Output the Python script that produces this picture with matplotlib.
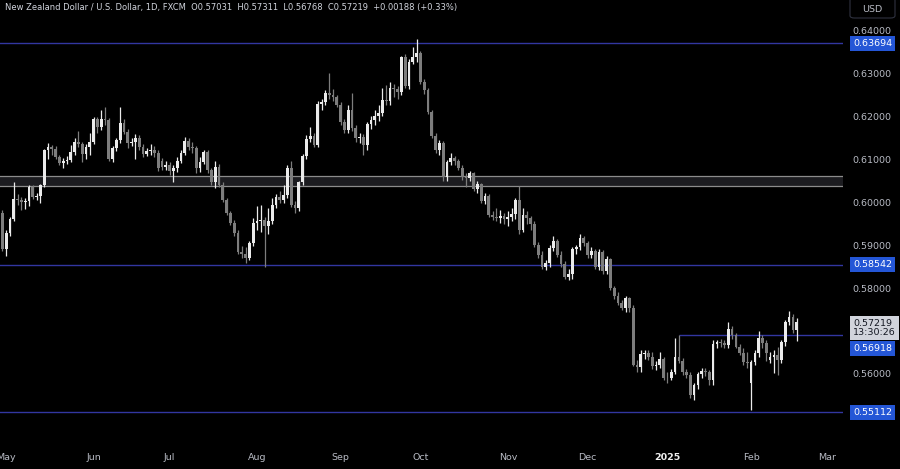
import matplotlib.pyplot as plt
import matplotlib.transforms as mtransforms
from matplotlib.patches import FancyBboxPatch
import numpy as np
import pandas as pd

# daily bars (FXCM has no bar on 25 Dec and 1 Jan)
days = pd.bdate_range('2024-04-30', '2025-02-19')
days = days[~days.isin(pd.to_datetime(['2024-12-25', '2025-01-01']))]

opens = [0.5975,
         # May
         0.5890, 0.5928, 0.5960, 0.6007, 0.6005, 0.6000, 0.6002, 0.6035, 0.6012, 0.6014, 0.6040, 0.6121,
         0.6128, 0.6124, 0.6105, 0.6091, 0.6095, 0.6098, 0.6116, 0.6140, 0.6135, 0.6112, 0.6128,
         # Jun
         0.6140, 0.6193, 0.6174, 0.6193, 0.6190, 0.6100, 0.6126, 0.6144, 0.6184, 0.6163, 0.6137, 0.6140,
         0.6148, 0.6128, 0.6112, 0.6119, 0.6122, 0.6115, 0.6095, 0.6081,
         # Jul
         0.6086, 0.6072, 0.6079, 0.6095, 0.6115, 0.6142, 0.6128, 0.6125, 0.6079, 0.6093, 0.6116, 0.6074,
         0.6047, 0.6081, 0.6040, 0.6005, 0.5974, 0.5951, 0.5928, 0.5884, 0.5880, 0.5870, 0.5905,
         # Aug
         0.5951, 0.5955, 0.5957, 0.5945, 0.5955, 0.5993, 0.6012, 0.6005, 0.6016, 0.6079, 0.5993, 0.5985,
         0.6047, 0.6107, 0.6147, 0.6154, 0.6133, 0.6228, 0.6232, 0.6253, 0.6250, 0.6245,
         # Sep
         0.6226, 0.6186, 0.6167, 0.6215, 0.6172, 0.6149, 0.6151, 0.6133, 0.6181, 0.6190, 0.6200, 0.6207,
         0.6237, 0.6235, 0.6265, 0.6262, 0.6255, 0.6337, 0.6270, 0.6326, 0.6337,
         # Oct
         0.6347, 0.6279, 0.6260, 0.6209, 0.6154, 0.6121, 0.6137, 0.6058, 0.6093, 0.6102, 0.6096, 0.6080,
         0.6058, 0.6055, 0.6067, 0.6030, 0.6042, 0.6002, 0.6014, 0.5970, 0.5965, 0.5963, 0.5968,
         # Nov
         0.5960, 0.5965, 0.5972, 0.6005, 0.5935, 0.5970, 0.5963, 0.5950, 0.5900, 0.5877, 0.5849, 0.5858,
         0.5893, 0.5909, 0.5877, 0.5856, 0.5826, 0.5832, 0.5891, 0.5895, 0.5916,
         # Dec
         0.5905, 0.5877, 0.5885, 0.5849, 0.5884, 0.5840, 0.5867, 0.5800, 0.5781, 0.5765, 0.5753, 0.5777,
         0.5753, 0.5621, 0.5616, 0.5647, 0.5648, 0.5640, 0.5619, 0.5622, 0.5635,
         # Jan
         0.5591, 0.5590, 0.5605, 0.5640, 0.5630, 0.5605, 0.5598, 0.5552, 0.5575, 0.5600, 0.5608, 0.5605,
         0.5586, 0.5670, 0.5674, 0.5672, 0.5668, 0.5705, 0.5690, 0.5663, 0.5649, 0.5628,
         # Feb
         0.5580, 0.5628, 0.5649, 0.5684, 0.5672, 0.5633, 0.5640, 0.5645, 0.5633, 0.5674, 0.5721, 0.5733,
         0.57031]

highs = [0.5982,
         0.5935, 0.5965, 0.6047, 0.6018, 0.6012, 0.6010, 0.6040, 0.6040, 0.6020, 0.6043, 0.6124, 0.6137,
         0.6133, 0.6130, 0.6110, 0.6102, 0.6106, 0.6133, 0.6150, 0.6165, 0.6140, 0.6135, 0.6160,
         0.6198, 0.6197, 0.6214, 0.6222, 0.6195, 0.6130, 0.6150, 0.6221, 0.6192, 0.6170, 0.6150, 0.6158,
         0.6155, 0.6135, 0.6125, 0.6135, 0.6130, 0.6122, 0.6102, 0.6095,
         0.6092, 0.6085, 0.6105, 0.6120, 0.6151, 0.6148, 0.6140, 0.6130, 0.6105, 0.6120, 0.6120, 0.6080,
         0.6095, 0.6088, 0.6046, 0.6010, 0.5980, 0.5958, 0.5935, 0.5898, 0.5895, 0.5910, 0.5962,
         0.5990, 0.5992, 0.5965, 0.5985, 0.6010, 0.6018, 0.6025, 0.6040, 0.6085, 0.6095, 0.6002, 0.6050,
         0.6112, 0.6155, 0.6174, 0.6160, 0.6235, 0.6240, 0.6260, 0.6300, 0.6262, 0.6250,
         0.6232, 0.6192, 0.6225, 0.6253, 0.6180, 0.6160, 0.6158, 0.6185, 0.6200, 0.6215, 0.6225, 0.6265,
         0.6272, 0.6280, 0.6275, 0.6270, 0.6340, 0.6345, 0.6332, 0.6360, 0.6378,
         0.6352, 0.6285, 0.6265, 0.6215, 0.6160, 0.6145, 0.6142, 0.6098, 0.6115, 0.6108, 0.6100, 0.6085,
         0.6068, 0.6072, 0.6070, 0.6048, 0.6045, 0.6020, 0.6018, 0.5980, 0.5985, 0.5982, 0.5975,
         0.5980, 0.5985, 0.6010, 0.6037, 0.5985, 0.5978, 0.5968, 0.5955, 0.5908, 0.5885, 0.5865, 0.5900,
         0.5922, 0.5915, 0.5885, 0.5862, 0.5845, 0.5895, 0.5900, 0.5925, 0.5920,
         0.5910, 0.5895, 0.5890, 0.5890, 0.5888, 0.5875, 0.5870, 0.5805, 0.5790, 0.5772, 0.5782, 0.5780,
         0.5760, 0.5632, 0.5655, 0.5655, 0.5655, 0.5652, 0.5630, 0.5650, 0.5640,
         0.5605, 0.5612, 0.5684, 0.5690, 0.5638, 0.5612, 0.5605, 0.5580, 0.5605, 0.5615, 0.5615, 0.5610,
         0.5680, 0.5680, 0.5682, 0.5680, 0.5721, 0.5712, 0.5695, 0.5670, 0.5660, 0.5650,
         0.5632, 0.5655, 0.5700, 0.5690, 0.5680, 0.5650, 0.5655, 0.5662, 0.5680, 0.5725, 0.5747, 0.5740,
         0.57311]

lows = [0.5885,
        0.5874, 0.5922, 0.5955, 0.5992, 0.5982, 0.5983, 0.5991, 0.6008, 0.6004, 0.5998, 0.6034, 0.6100,
        0.6110, 0.6100, 0.6085, 0.6080, 0.6088, 0.6092, 0.6110, 0.6128, 0.6092, 0.6100, 0.6110,
        0.6135, 0.6160, 0.6168, 0.6180, 0.6095, 0.6094, 0.6118, 0.6138, 0.6158, 0.6125, 0.6130, 0.6100,
        0.6120, 0.6105, 0.6106, 0.6110, 0.6105, 0.6072, 0.6075, 0.6074,
        0.6062, 0.6047, 0.6070, 0.6090, 0.6110, 0.6122, 0.6115, 0.6068, 0.6070, 0.6088, 0.6068, 0.6040,
        0.6033, 0.6035, 0.6000, 0.5970, 0.5946, 0.5922, 0.5880, 0.5870, 0.5858, 0.5865, 0.5898,
        0.5935, 0.5930, 0.5850, 0.5925, 0.5950, 0.5985, 0.5998, 0.5998, 0.6010, 0.5988, 0.5975, 0.5980,
        0.6040, 0.6100, 0.6140, 0.6128, 0.6128, 0.6215, 0.6225, 0.6240, 0.6235, 0.6220,
        0.6180, 0.6160, 0.6160, 0.6165, 0.6140, 0.6138, 0.6109, 0.6120, 0.6170, 0.6180, 0.6188, 0.6200,
        0.6225, 0.6225, 0.6245, 0.6240, 0.6250, 0.6265, 0.6262, 0.6320, 0.6325,
        0.6275, 0.6252, 0.6205, 0.6150, 0.6115, 0.6110, 0.6050, 0.6050, 0.6085, 0.6085, 0.6075, 0.6052,
        0.6035, 0.6050, 0.6025, 0.6022, 0.5998, 0.5995, 0.5965, 0.5958, 0.5955, 0.5952, 0.5950,
        0.5945, 0.5955, 0.5960, 0.5925, 0.5930, 0.5950, 0.5935, 0.5895, 0.5870, 0.5845, 0.5842, 0.5850,
        0.5885, 0.5872, 0.5850, 0.5820, 0.5818, 0.5820, 0.5880, 0.5888, 0.5898,
        0.5870, 0.5870, 0.5845, 0.5842, 0.5832, 0.5832, 0.5795, 0.5775, 0.5760, 0.5748, 0.5745, 0.5745,
        0.5618, 0.5605, 0.5605, 0.5635, 0.5632, 0.5612, 0.5610, 0.5615, 0.5585,
        0.5580, 0.5585, 0.5600, 0.5625, 0.5598, 0.5590, 0.5545, 0.5540, 0.5565, 0.5590, 0.5595, 0.5575,
        0.5575, 0.5660, 0.5662, 0.5660, 0.5660, 0.5682, 0.5660, 0.5645, 0.5622, 0.5615,
        0.5516, 0.5620, 0.5640, 0.5660, 0.5630, 0.5625, 0.5602, 0.5598, 0.5625, 0.5665, 0.5715, 0.5695,
        0.56768]

closes = [0.5890,
          0.5928, 0.5960, 0.6007, 0.6005, 0.6000, 0.6002, 0.6035, 0.6012, 0.6014, 0.6040, 0.6121, 0.6128,
          0.6124, 0.6105, 0.6091, 0.6095, 0.6098, 0.6116, 0.6140, 0.6135, 0.6112, 0.6128, 0.6140,
          0.6193, 0.6174, 0.6193, 0.6190, 0.6100, 0.6126, 0.6144, 0.6184, 0.6163, 0.6137, 0.6140, 0.6148,
          0.6128, 0.6112, 0.6119, 0.6122, 0.6115, 0.6079, 0.6081, 0.6086,
          0.6072, 0.6079, 0.6095, 0.6115, 0.6142, 0.6128, 0.6125, 0.6079, 0.6093, 0.6116, 0.6074, 0.6047,
          0.6081, 0.6040, 0.6005, 0.5974, 0.5951, 0.5928, 0.5884, 0.5880, 0.5870, 0.5905, 0.5951,
          0.5955, 0.5957, 0.5945, 0.5955, 0.5993, 0.6012, 0.6005, 0.6016, 0.6079, 0.5993, 0.5985, 0.6047,
          0.6107, 0.6147, 0.6154, 0.6133, 0.6228, 0.6232, 0.6253, 0.6250, 0.6245, 0.6226,
          0.6186, 0.6167, 0.6215, 0.6172, 0.6149, 0.6151, 0.6133, 0.6181, 0.6190, 0.6200, 0.6207, 0.6237,
          0.6235, 0.6265, 0.6262, 0.6255, 0.6337, 0.6270, 0.6326, 0.6337, 0.6347,
          0.6279, 0.6260, 0.6209, 0.6154, 0.6121, 0.6137, 0.6058, 0.6093, 0.6102, 0.6096, 0.6080, 0.6058,
          0.6055, 0.6067, 0.6030, 0.6042, 0.6002, 0.6014, 0.5970, 0.5965, 0.5963, 0.5968, 0.5960,
          0.5965, 0.5972, 0.6005, 0.5935, 0.5970, 0.5963, 0.5950, 0.5900, 0.5877, 0.5849, 0.5858, 0.5893,
          0.5909, 0.5877, 0.5856, 0.5826, 0.5832, 0.5891, 0.5895, 0.5916, 0.5905,
          0.5877, 0.5885, 0.5849, 0.5884, 0.5840, 0.5867, 0.5800, 0.5781, 0.5765, 0.5753, 0.5777, 0.5753,
          0.5621, 0.5616, 0.5647, 0.5648, 0.5640, 0.5619, 0.5622, 0.5635, 0.5591,
          0.5590, 0.5605, 0.5640, 0.5630, 0.5605, 0.5598, 0.5552, 0.5575, 0.5600, 0.5608, 0.5605, 0.5586,
          0.5670, 0.5674, 0.5672, 0.5668, 0.5705, 0.5690, 0.5663, 0.5649, 0.5628, 0.5625,
          0.5628, 0.5649, 0.5684, 0.5672, 0.5649, 0.5640, 0.5645, 0.5633, 0.5674, 0.5721, 0.5733, 0.5703,
          0.57219]

# drawn levels
levels = [0.63694, 0.58542, 0.56918, 0.55112]
zone = (0.60372, 0.60605)
level_start = {0.56918: '2025-01-07'}
price_ticks = [0.55, 0.56, 0.58, 0.59, 0.60, 0.61, 0.62, 0.63, 0.64]
month_ticks = ['2024-05-01', '2024-06-03', '2024-07-01', '2024-08-01', '2024-09-02', '2024-10-01',
               '2024-11-01', '2024-12-02', '2025-01-02', '2025-02-03', '2025-03-03']
month_labels = ['May', 'Jun', 'Jul', 'Aug', 'Sep', 'Oct', 'Nov', 'Dec', '2025', 'Feb', 'Mar']
title = ('New Zealand Dollar / U.S. Dollar, 1D, FXCM  O0.57031  H0.57311  L0.56768  '
         'C0.57219  +0.00188 (+0.33%)')

assert len(opens) == len(highs) == len(lows) == len(closes) == len(days)

o = np.array(opens)
h = np.array(highs)
l = np.array(lows)
c = np.array(closes)
x = np.arange(len(days))


def bar_pos(d):
    d = pd.Timestamp(d)
    if d <= days[-1]:
        return int(np.searchsorted(days, d))
    return len(days) - 1 + len(pd.bdate_range(days[-1] + pd.Timedelta(days=1), d))


plt.rcParams['font.family'] = ['DejaVu Sans']
small = 6.8

bg = '#000000'
up_col = '#ebebeb'
dn_col = '#7d7d7d'
txt_col = '#b8bbc4'
line_col = '#3236a0'
blue_box = '#2456d6'

fig = plt.figure(figsize=(9, 4.69), dpi=100, facecolor=bg)
ax = fig.add_axes([0, 29 / 469, 843 / 900, 440 / 469], facecolor=bg)

up = c >= o
cols = np.where(up, up_col, dn_col)
ax.vlines(x, l, h, colors=cols, linewidth=0.9, zorder=3)
body = np.maximum(np.abs(c - o), 0.00007)
ax.bar(x, body, bottom=np.minimum(o, c), width=0.7, color=cols, linewidth=0, zorder=4)

# zone
ax.axhspan(zone[0], zone[1], color='#1c1c20', zorder=1, linewidth=0)
for z in zone:
    ax.axhline(z, color='#8c8c8c', linewidth=0.9, zorder=2)

xmax = 221.2
for lv in levels:
    start = bar_pos(level_start[lv]) if lv in level_start else -1
    ax.hlines(lv, start, xmax, color=line_col, linewidth=1.0, zorder=2)

ax.set_xlim(-0.63, xmax)
ax.set_ylim(0.54465, 0.64698)

for s in ax.spines.values():
    s.set_visible(False)

ax.yaxis.tick_right()
ax.set_yticks(price_ticks)
ax.set_yticklabels([f'{p:.5f}' for p in price_ticks])
ax.tick_params(axis='y', length=0, pad=7, labelsize=small, labelcolor=txt_col)

ax.set_xticks([bar_pos(d) for d in month_ticks])
ax.set_xticklabels(month_labels)
ax.tick_params(axis='x', length=0, pad=9, labelsize=small, labelcolor=txt_col)
for lab in ax.get_xticklabels():
    if lab.get_text() == '2025':
        lab.set_fontweight('bold')
        lab.set_color('#f0f0f0')

# price labels on the axis (0.56918 pushed below the last-price box, as on the chart)
tr = mtransforms.blended_transform_factory(ax.transAxes, ax.transData)
label_y = {0.56918: 0.56600}
for lv in levels:
    ax.text(1.012, label_y.get(lv, lv), f'{lv:.5f}', transform=tr, ha='left', va='center',
            fontsize=small, color='white', clip_on=False, zorder=6,
            bbox=dict(boxstyle='square,pad=0.3', facecolor=blue_box, edgecolor='none'))

ax.text(1.012, 0.57290, f'{closes[-1]:.5f}\n13:30:26', transform=tr, ha='left', va='top',
        fontsize=small, color='#131722', linespacing=1.1, clip_on=False, zorder=7,
        bbox=dict(boxstyle='square,pad=0.3', facecolor='#d1d4dc', edgecolor='none'))

fig.text(0.006, 0.983, title, ha='left', va='center', fontsize=6.0, color='#d1d4dc')

usd = FancyBboxPatch((850 / 900, 451 / 469), 45 / 900, 20 / 469,
                     boxstyle='round,pad=0,rounding_size=0.005',
                     transform=fig.transFigure, facecolor=bg, edgecolor='#2f3240', linewidth=0.8)
fig.patches.append(usd)
fig.text(872 / 900, 460 / 469, 'USD', ha='center', va='center', fontsize=small, color=txt_col)

fig.savefig('out.png', dpi=100, facecolor=bg)
